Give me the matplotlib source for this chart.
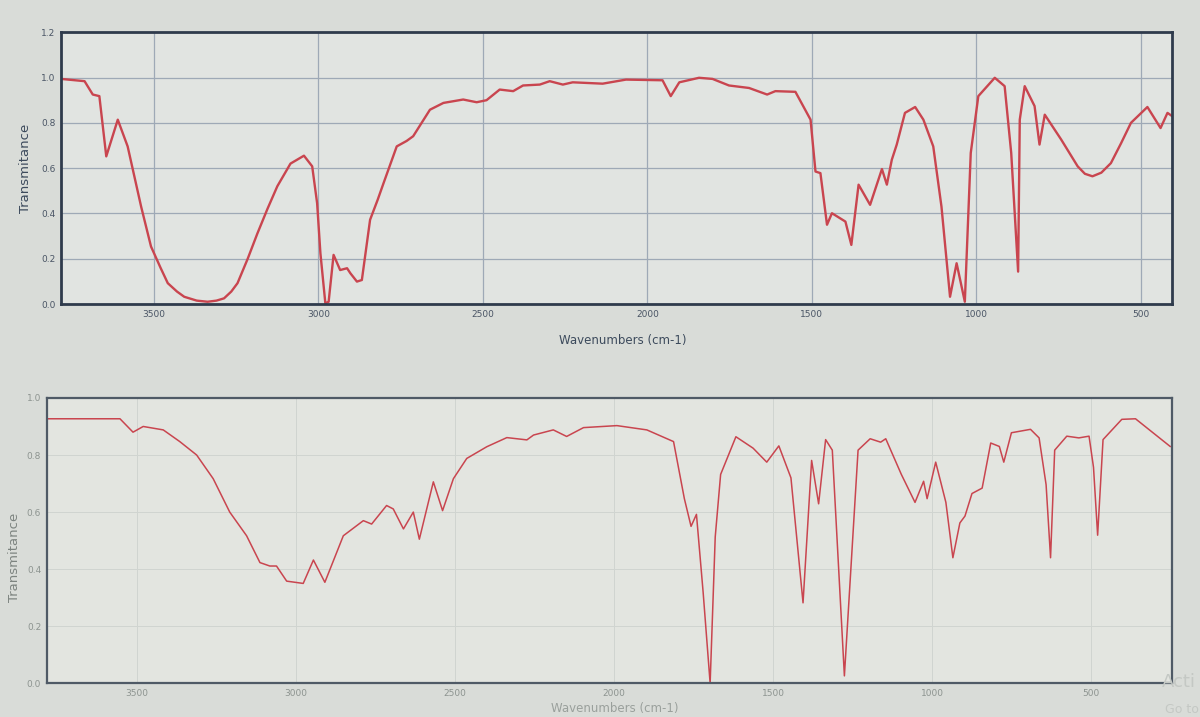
import matplotlib
matplotlib.use("Agg")
import matplotlib.pyplot as plt

# Upper spectrum
top_wn = [3782, 3711, 3686, 3666, 3645, 3610, 3580, 3539, 3509, 3480, 3458, 3430, 3408,
          3370, 3337, 3310, 3287, 3265, 3246, 3215, 3186, 3155, 3125, 3085, 3044, 3019,
          3004, 2994, 2979, 2969, 2954, 2934, 2913, 2903, 2883, 2868, 2843, 2820, 2802,
          2762, 2732, 2712, 2661, 2620, 2560, 2519, 2489, 2449, 2408, 2378, 2327, 2297,
          2257, 2227, 2136, 2065, 1954, 1929, 1903, 1843, 1802, 1752, 1691, 1636, 1611,
          1550, 1504, 1489, 1474, 1454, 1439, 1398, 1380, 1358, 1323, 1287, 1272, 1257,
          1242, 1217, 1186, 1161, 1131, 1106, 1080, 1060, 1035, 1017, 994, 944, 914, 894,
          873, 868, 853, 823, 808, 792, 742, 692, 670, 647, 620, 591, 560, 530, 480, 440,
          419, 404]
top_T = [0.994, 0.984, 0.925, 0.918, 0.652, 0.814, 0.696, 0.43, 0.254, 0.16, 0.092, 0.055,
         0.032, 0.015, 0.01, 0.015, 0.025, 0.055, 0.092, 0.2, 0.31, 0.42, 0.52, 0.62, 0.655,
         0.608, 0.445, 0.224, 0.003, 0.01, 0.217, 0.15, 0.158, 0.136, 0.099, 0.106, 0.372,
         0.46, 0.534, 0.696, 0.72, 0.741, 0.858, 0.888, 0.903, 0.891, 0.90, 0.947, 0.94,
         0.965, 0.969, 0.984, 0.969, 0.979, 0.973, 0.991, 0.988, 0.918, 0.979, 0.999,
         0.994, 0.965, 0.954, 0.925, 0.94, 0.937, 0.814, 0.585, 0.578, 0.35, 0.401, 0.364,
         0.261, 0.527, 0.438, 0.596, 0.527, 0.637, 0.704, 0.844, 0.87, 0.814, 0.696, 0.43,
         0.032, 0.18, 0.01, 0.667, 0.918, 0.999, 0.962, 0.667, 0.143, 0.814, 0.962, 0.874,
         0.704, 0.836, 0.726, 0.608, 0.575, 0.564, 0.58, 0.622, 0.71, 0.8, 0.87, 0.777,
         0.844, 0.829]

# Lower spectrum
bot_wn = [3779, 3553, 3512, 3480, 3417, 3365, 3312, 3260, 3208, 3155, 3113, 3082, 3061,
          3029, 2977, 2945, 2909, 2851, 2788, 2762, 2715, 2694, 2662, 2631, 2612, 2568,
          2539, 2505, 2463, 2400, 2337, 2274, 2253, 2191, 2149, 2096, 1991, 1897, 1813,
          1779, 1758, 1741, 1720, 1698, 1682, 1665, 1617, 1563, 1520, 1482, 1444, 1406,
          1379, 1357, 1335, 1314, 1276, 1233, 1195, 1162, 1146, 1097, 1054, 1027, 1016,
          989, 957, 935, 913, 897, 875, 843, 816, 789, 775, 751, 691, 664, 642, 628, 615,
          577, 539, 507, 493, 480, 463, 404, 361, 306, 252]
bot_T = [0.927, 0.927, 0.88, 0.90, 0.888, 0.847, 0.80, 0.717, 0.6, 0.517, 0.423, 0.411,
         0.411, 0.358, 0.35, 0.432, 0.354, 0.517, 0.57, 0.558, 0.623, 0.611, 0.541, 0.6,
         0.505, 0.706, 0.605, 0.717, 0.788, 0.829, 0.861, 0.853, 0.87, 0.888, 0.865, 0.896,
         0.903, 0.888, 0.847, 0.647, 0.55, 0.592, 0.319, 0.0, 0.513, 0.732, 0.864, 0.824,
         0.775, 0.832, 0.72, 0.282, 0.781, 0.629, 0.854, 0.817, 0.026, 0.817, 0.857, 0.845,
         0.857, 0.732, 0.634, 0.708, 0.647, 0.775, 0.634, 0.44, 0.562, 0.586, 0.665, 0.684,
         0.842, 0.83, 0.775, 0.878, 0.89, 0.86, 0.696, 0.44, 0.817, 0.866, 0.86, 0.866,
         0.757, 0.519, 0.854, 0.925, 0.927, 0.878, 0.83]

x_ticks = [3500, 3000, 2500, 2000, 1500, 1000, 500]
top_yticks = [0.0, 0.2, 0.4, 0.6, 0.8, 1.0, 1.2]
bot_yticks = [0.0, 0.2, 0.4, 0.6, 0.8, 1.0]

line_col = "#c9454f"
frame_col = "#2f3b4c"

fig = plt.figure(figsize=(12, 7.17), dpi=100, facecolor="#d9dcd8")

# Top panel
ax1 = fig.add_axes([0.051, 0.576, 0.926, 0.379], facecolor="#e1e4e1")
ax1.plot(top_wn, top_T, color=line_col, lw=1.7)
ax1.set_xlim(3782, 404)
ax1.set_ylim(0, 1.2)
ax1.set_xticks(x_ticks)
ax1.set_yticks(top_yticks)
ax1.set_yticklabels(["%.1f" % v for v in top_yticks])
ax1.grid(True, color="#9ea9b6", lw=0.9)
ax1.set_axisbelow(True)
ax1.tick_params(length=0, labelsize=6.5, labelcolor="#4a5565", pad=4)
for s in ax1.spines.values():
    s.set_color(frame_col)
    s.set_linewidth(2)
ax1.set_xlabel("Wavenumbers (cm-1)", fontsize=8.5, color="#3c4a5c")
ax1.xaxis.set_label_coords(0.505, -0.11)
ax1.set_ylabel("Transmitance", fontsize=9.5, color="#3c4a5c")
ax1.yaxis.set_label_coords(-0.026, 0.5)

# Bottom panel
ax2 = fig.add_axes([0.039, 0.047, 0.938, 0.398], facecolor="#e3e5e0")
ax2.plot(bot_wn, bot_T, color=line_col, lw=1.1)
ax2.set_xlim(3783, 245)
ax2.set_ylim(0, 1.0)
ax2.set_xticks(x_ticks)
ax2.set_yticks(bot_yticks)
ax2.set_yticklabels(["%.1f" % v for v in bot_yticks])
ax2.grid(True, color="#d0d4d0", lw=0.7)
ax2.set_axisbelow(True)
ax2.tick_params(length=0, labelsize=6.5, labelcolor="#8d9490", pad=4)
for s in ax2.spines.values():
    s.set_color("#4f5a66")
    s.set_linewidth(1.6)
ax2.set_xlabel("Wavenumbers (cm-1)", fontsize=8.5, color="#9aa09c")
ax2.xaxis.set_label_coords(0.505, -0.065)
ax2.set_ylabel("Transmitance", fontsize=9.5, color="#7d8480")
ax2.yaxis.set_label_coords(-0.023, 0.44)

# leftover watermark from the screenshot
fig.text(0.968, 0.042, "Acti", fontsize=13, color="#c4c8c4")
fig.text(0.971, 0.006, "Go to", fontsize=9, color="#c4c8c4")

fig.savefig("out.png", dpi=100, facecolor=fig.get_facecolor())
